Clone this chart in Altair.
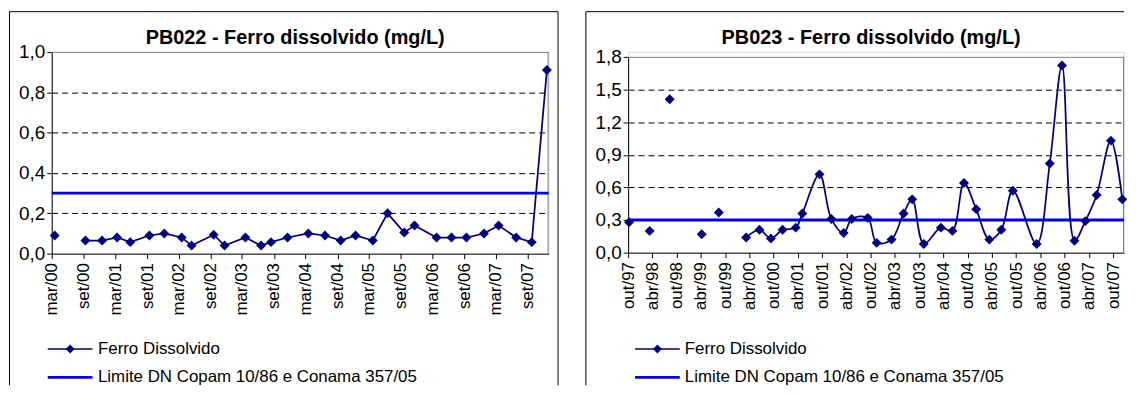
import altair as alt
import pandas as pd

FONT = "Liberation Sans"
NAVY = "#000080"
BLUE = "#0000FF"
GRAY = "#808080"

series_name = "Ferro Dissolvido"
limit_name = "Limite DN Copam 10/86 e Conama 357/05"

# ---------------- PB022 ----------------
pb022_title = "PB022 - Ferro dissolvido (mg/L)"
pb022_dates = ["2000-03-18", "2000-06-15", "2000-09-11", "2000-12-16", "2001-03-12", "2001-05-27",
               "2001-09-14", "2001-12-09", "2002-03-19", "2002-05-15", "2002-09-19", "2002-11-21",
               "2003-03-21", "2003-06-19", "2003-08-15", "2003-11-18", "2004-03-17", "2004-06-21",
               "2004-09-19", "2004-12-14", "2005-03-23", "2005-06-16", "2005-09-20", "2005-11-18",
               "2006-03-25", "2006-06-19", "2006-09-13", "2006-12-23", "2007-03-17", "2007-06-26",
               "2007-09-24", "2007-12-20"]
pb022_values = [0.09, None, 0.065, 0.065, 0.08, 0.057, 0.09, 0.10, 0.08, 0.04, 0.094, 0.04,
                0.08, 0.04, 0.057, 0.08, 0.10, 0.09, 0.065, 0.09, 0.065, 0.20, 0.105, 0.14,
                0.08, 0.08, 0.08, 0.10, 0.14, 0.08, 0.057, 0.91]
pb022_axis_start = "2000-03-01"
pb022_axis_end = "2007-12-30"
pb022_tick_dates = ["2000-03-01", "2000-09-01", "2001-03-01", "2001-09-01", "2002-03-01", "2002-09-01",
                    "2003-03-01", "2003-09-01", "2004-03-01", "2004-09-01", "2005-03-01", "2005-09-01",
                    "2006-03-01", "2006-09-01", "2007-03-01", "2007-09-01"]
pb022_tick_labels = ["mar/00", "set/00", "mar/01", "set/01", "mar/02", "set/02", "mar/03", "set/03",
                     "mar/04", "set/04", "mar/05", "set/05", "mar/06", "set/06", "mar/07", "set/07"]
pb022_y_ticks = [0.0, 0.2, 0.4, 0.6, 0.8, 1.0]
pb022_limit = [0.3]

# ---------------- PB023 ----------------
pb023_title = "PB023 - Ferro dissolvido (mg/L)"
pb023_dates = ["1997-10-08", "1998-01-01", "1998-03-12", "1998-06-01", "1998-08-10", "1998-12-01",
               "1999-04-08", "1999-06-01", "1999-08-15", "1999-12-01", "2000-03-08", "2000-06-16",
               "2000-09-10", "2000-12-07", "2001-03-16", "2001-05-05", "2001-09-11", "2001-12-09",
               "2002-03-12", "2002-05-12", "2002-09-09", "2002-11-15", "2003-03-07", "2003-06-06",
               "2003-08-10", "2003-11-05", "2004-03-13", "2004-06-08", "2004-09-03", "2004-12-04",
               "2005-03-13", "2005-06-11", "2005-09-06", "2006-03-04", "2006-06-11", "2006-09-11",
               "2006-12-14", "2007-03-06", "2007-05-30", "2007-09-14", "2007-12-09"]
pb023_values = [0.28, None, 0.20, None, 1.41, None, 0.17, None, 0.37, None, 0.14, 0.21,
                0.13, 0.21, 0.23, 0.36, 0.72, 0.31, 0.18, 0.31, 0.32, 0.09, 0.12, 0.36,
                0.49, 0.08, 0.23, 0.20, 0.64, 0.40, 0.12, 0.21, 0.57, 0.08, 0.82, 1.72,
                0.11, 0.29, 0.53, 1.03, 0.49]
pb023_axis_start = "1997-10-01"
pb023_axis_end = "2007-12-22"
pb023_tick_dates = ["1997-10-01", "1998-04-01", "1998-10-01", "1999-04-01", "1999-10-01", "2000-04-01",
                    "2000-10-01", "2001-04-01", "2001-10-01", "2002-04-01", "2002-10-01", "2003-04-01",
                    "2003-10-01", "2004-04-01", "2004-10-01", "2005-04-01", "2005-10-01", "2006-04-01",
                    "2006-10-01", "2007-04-01", "2007-10-01"]
pb023_tick_labels = ["out/97", "abr/98", "out/98", "abr/99", "out/99", "abr/00", "out/00", "abr/01",
                     "out/01", "abr/02", "out/02", "abr/03", "out/03", "abr/04", "out/04", "abr/05",
                     "out/05", "abr/06", "out/06", "abr/07", "out/07"]
pb023_y_ticks = [0.0, 0.3, 0.6, 0.9, 1.2, 1.5, 1.8]
pb023_limit = [0.3]


def day_offsets(dates, start):
    s = pd.Timestamp(start)
    return [int((pd.Timestamp(d) - s).days) for d in dates]


def panel(title, dates, values, start, end, tick_dates, tick_labels, y_ticks, limit,
          W, H, top, interp, geo):
    """top = pixel offset of the plot's top edge inside the group (0 for the left chart)."""
    df = pd.DataFrame({"date": dates, "value": values})
    df["day"] = day_offsets(df["date"], start)
    df["seg"] = df["value"].isna().cumsum()
    df = df.dropna(subset=["value"]).reset_index(drop=True)

    span = int((pd.Timestamp(end) - pd.Timestamp(start)).days)
    tvals = day_offsets(tick_dates, start)
    lab_expr = ("[" + ",".join("'%s'" % l for l in tick_labels) + "][indexof(["
                + ",".join(str(v) for v in tvals) + "], datum.value)]")
    ymax = y_ticks[-1]

    x_enc = alt.X("day:Q",
                  scale=alt.Scale(domain=[0, span], nice=False, zero=False),
                  axis=alt.Axis(values=tvals, labelExpr=lab_expr, labelAngle=-90, title=None,
                                grid=False, tickSize=5, labelPadding=4, labelFontSize=17,
                                labelFont=FONT, labelColor="black", domainColor="black",
                                tickColor="black", labelOverlap=False, labelFlush=False))
    y_enc = alt.Y("value:Q",
                  scale=alt.Scale(domain=[0, ymax], nice=False, zero=True, range=[H, top]),
                  axis=alt.Axis(values=y_ticks,
                                labelExpr="replace(format(datum.value, '.1f'), '.', ',')",
                                title=None, grid=True, gridColor="black", gridDash=[6, 4],
                                gridWidth=1,
                                gridOpacity={"condition": {"test": "datum.value <= 0 || datum.value >= %s" % ymax,
                                                           "value": 0}, "value": 1},
                                tickSize=5, tickColor="black", domainColor="black",
                                labelFontSize=19, labelFont=FONT, labelPadding=2,
                                labelColor="black", labelOverlap=False))

    base = alt.Chart(df)
    tiny = pd.DataFrame({"k": [0]})

    # plot-area border (gray, top and right)
    border = [
        alt.Chart(tiny).mark_rule(color=GRAY, strokeWidth=1).encode(
            x=alt.value(0), x2=alt.value(W), y=alt.value(top + 0.5)),
        alt.Chart(tiny).mark_rule(color=GRAY, strokeWidth=1).encode(
            x=alt.value(W - 0.5), y=alt.value(top), y2=alt.value(H)),
    ]

    limit_layer = alt.Chart(pd.DataFrame({"value": limit})).mark_rule(
        color=BLUE, strokeWidth=3).encode(y=y_enc, x=alt.value(0), x2=alt.value(W))
    line_layer = base.mark_line(color=NAVY, strokeWidth=1.75, interpolate=interp).encode(
        x=x_enc, y=y_enc, detail="seg:N")
    pts_layer = base.mark_point(shape="diamond", filled=True, size=100, color=NAVY,
                                opacity=1).encode(x=x_enc, y=y_enc)

    # chart-area border (black)
    frame = [
        alt.Chart(tiny).mark_rule(color="black", strokeWidth=1).encode(
            x=alt.value(-42.5), x2=alt.value(geo["frame_right"]), y=alt.value(-40.5)),
        alt.Chart(tiny).mark_rule(color="black", strokeWidth=1).encode(
            x=alt.value(-42.5), y=alt.value(-40.5), y2=alt.value(335.5)),
    ]
    if geo.get("right_side"):
        frame.append(alt.Chart(tiny).mark_rule(color="black", strokeWidth=1).encode(
            x=alt.value(geo["frame_right"]), y=alt.value(-40.5), y2=alt.value(335.5)))

    title_layer = alt.Chart(pd.DataFrame({"t": [title]})).mark_text(
        font=FONT, fontSize=20, fontWeight="bold", baseline="alphabetic", align="center",
        color="black").encode(text="t:N", x=alt.value(geo["title_x"]), y=alt.value(-8))

    lx0, lx1, ltx = geo["leg_x0"], geo["leg_x1"], geo["leg_tx"]
    ly1, ly2 = 299, 327.5
    leg = [
        alt.Chart(tiny).mark_rule(color=NAVY, strokeWidth=1.5).encode(
            x=alt.value(lx0), x2=alt.value(lx1), y=alt.value(ly1)),
        alt.Chart(tiny).mark_point(shape="diamond", filled=True, size=80, color=NAVY,
                                   opacity=1).encode(
            x=alt.value((lx0 + lx1) / 2), y=alt.value(ly1)),
        alt.Chart(pd.DataFrame({"t": [series_name]})).mark_text(
            font=FONT, fontSize=17, align="left", baseline="middle", color="black").encode(
            text="t:N", x=alt.value(ltx), y=alt.value(ly1)),
        alt.Chart(tiny).mark_rule(color=BLUE, strokeWidth=3).encode(
            x=alt.value(lx0), x2=alt.value(lx1), y=alt.value(ly2)),
        alt.Chart(pd.DataFrame({"t": [limit_name]})).mark_text(
            font=FONT, fontSize=17, align="left", baseline="middle", color="black").encode(
            text="t:N", x=alt.value(ltx), y=alt.value(ly2)),
    ]

    return alt.layer(*frame, *border, limit_layer, line_layer, pts_layer, title_layer,
                     *leg).properties(width=W, height=H)


left = panel(pb022_title, pb022_dates, pb022_values, pb022_axis_start, pb022_axis_end,
             pb022_tick_dates, pb022_tick_labels, pb022_y_ticks, pb022_limit,
             500, 203, 0, "linear",
             dict(frame_right=509.5, right_side=True, title_x=245,
                  leg_x0=-4, leg_x1=41, leg_tx=46.5))

right = panel(pb023_title, pb023_dates, pb023_values, pb023_axis_start, pb023_axis_end,
              pb023_tick_dates, pb023_tick_labels, pb023_y_ticks, pb023_limit,
              499, 202, 5, "catmull-rom",
              dict(frame_right=499, right_side=False, title_x=244.5,
                   leg_x0=7, leg_x1=52, leg_tx=57))

chart = alt.hconcat(left, right, spacing=25).properties(
    padding={"left": 0, "top": 1, "right": 0, "bottom": 0},
    background="white",
).configure_view(stroke="transparent").configure(font=FONT)

chart.save("out.html", embed_options={"renderer": "svg", "actions": False})
